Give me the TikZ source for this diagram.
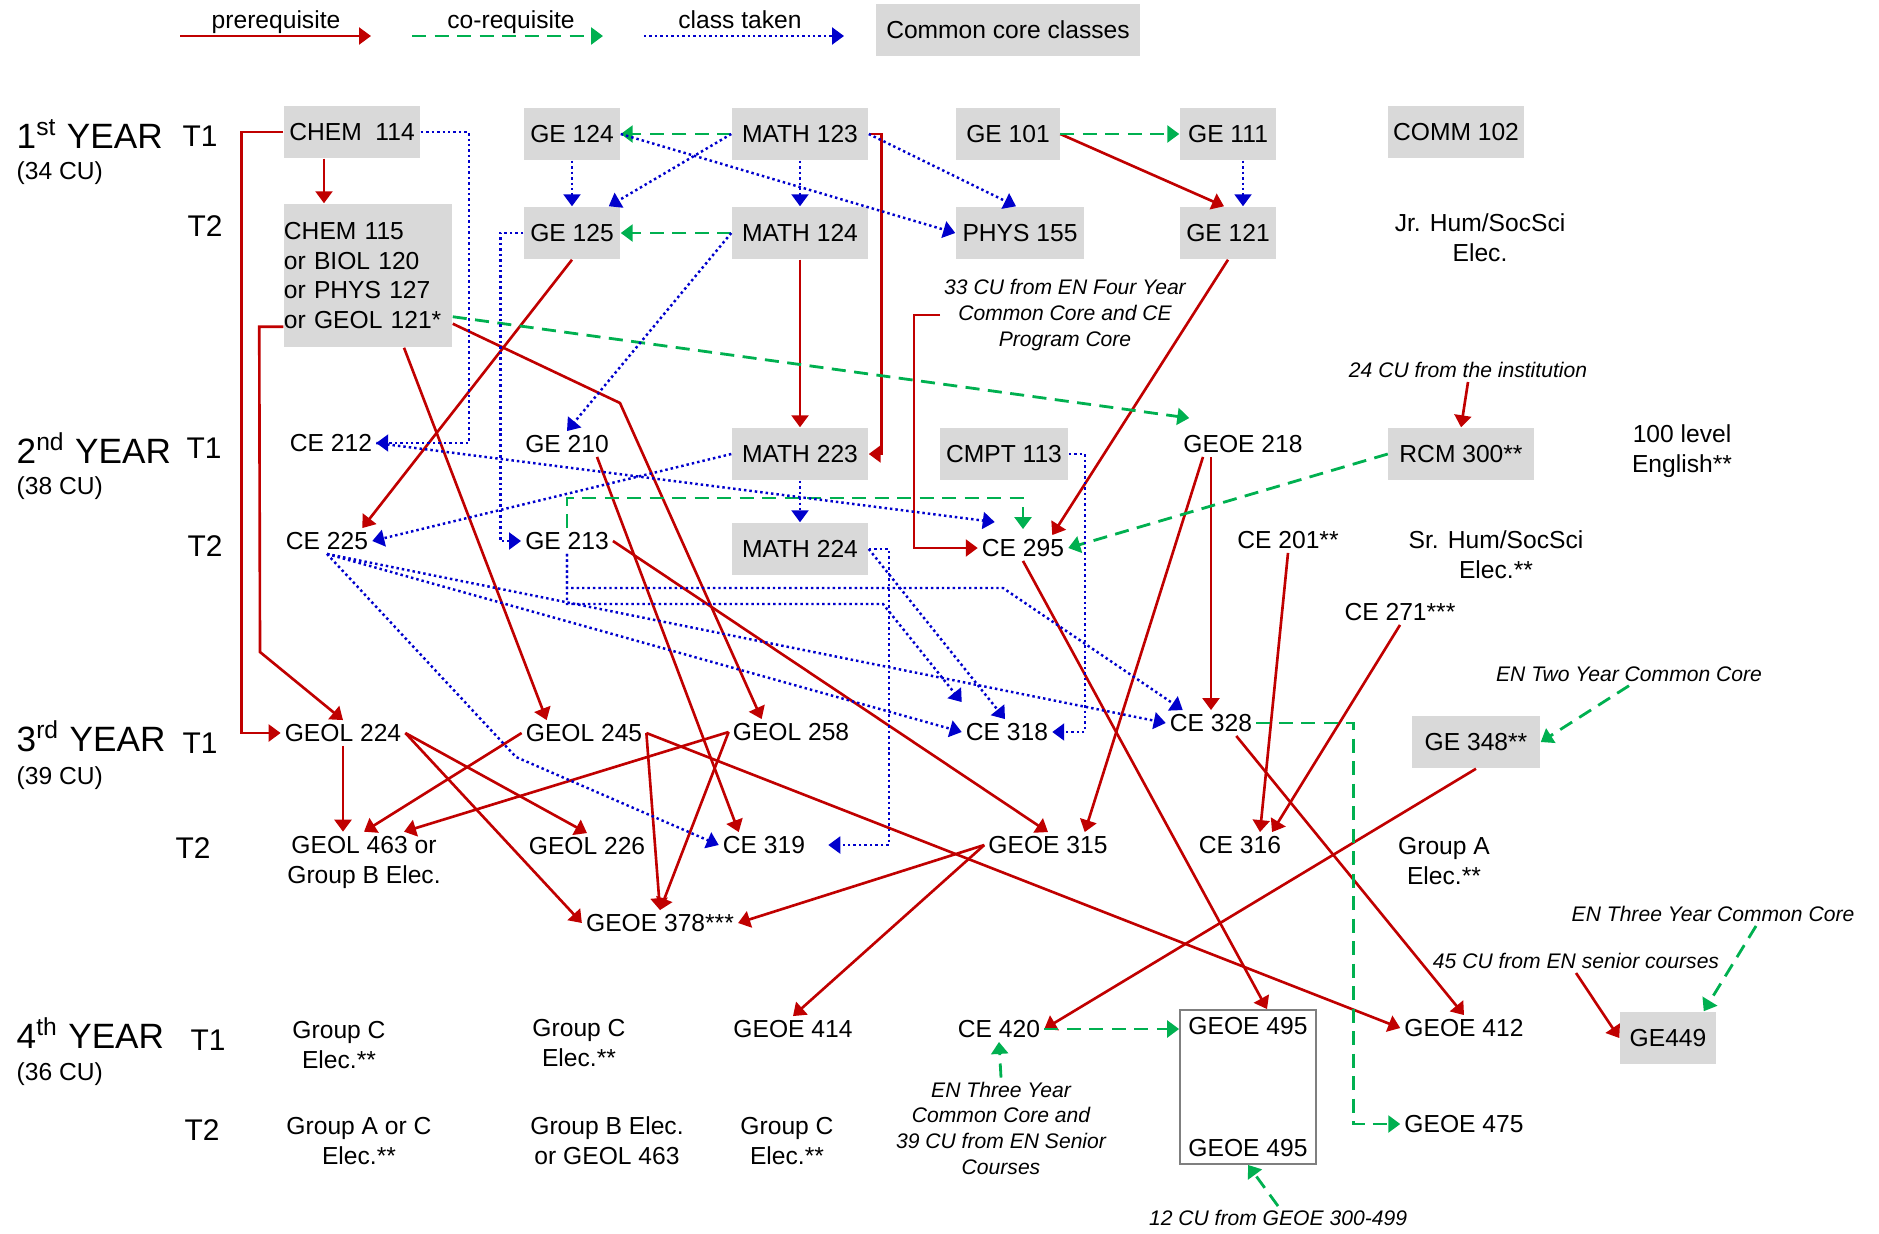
\documentclass[tikz,border=0pt]{standalone}
\usepackage{fontspec}
\setmainfont{Liberation Sans}
\usetikzlibrary{arrows.meta,calc}
\definecolor{prered}{HTML}{C00000}
\definecolor{coreqgreen}{HTML}{00B050}
\definecolor{takenblue}{HTML}{0000CC}
\definecolor{corefill}{HTML}{D9D9D9}
\definecolor{boxgray}{HTML}{7F7F7F}
\tikzset{
    course/.style={inner sep=1pt, align=center, font=\fontsize{7}{8.5}\selectfont},
    core/.style={course, fill=corefill, inner sep=0pt, minimum height=0.52cm},
    note/.style={inner sep=1pt, align=center, font=\fontsize{6}{7.3}\selectfont\itshape},
    yearlbl/.style={anchor=base west, inner sep=0pt, font=\fontsize{10}{12}\selectfont},
    culbl/.style={anchor=base west, inner sep=0pt, font=\fontsize{7}{8.5}\selectfont},
    termlbl/.style={inner sep=0pt, font=\fontsize{8.5}{10}\selectfont}
}
\tikzset{
    pre/.style={draw=prered, line width=0.75pt, -{Triangle[length=3.4pt,width=4.8pt]}},
    coreq/.style={draw=coreqgreen, line width=0.8pt, dash pattern=on 4pt off 2.4pt, -{Triangle[length=3.4pt,width=4.8pt]}},
    taken/.style={draw=takenblue, line width=0.7pt, dash pattern=on 0.7pt off 0.85pt, -{Triangle[length=3.4pt,width=4.8pt]}}
}
\begin{document}
\begin{tikzpicture}[x=0.01cm,y=-0.01cm]
	\useasboundingbox (0,0) rectangle (1879,1233);
	% legend
	\node[course,anchor=base] (lgpre) at (276,28) {prerequisite};
	\node[course,anchor=base] (lgco) at (511,28) {co-requisite};
	\node[course,anchor=base] (lgtaken) at (740,28) {class taken};
	\node[core,minimum width=2.64cm,minimum height=0.51cm] (lgcore) at (1008,30) {Common core classes};
	\draw[pre] (180,36) -- (371,36);
	\draw[coreq] (412,36) -- (603,36);
	\draw[taken] (644,36) -- (844,36);
	% years and terms
	\node[yearlbl] (y1) at (16,148) {1\textsuperscript{st} YEAR};
	\node[culbl] (cu1) at (16,179) {(34 CU)};
	\node[yearlbl] (y2) at (16,463) {2\textsuperscript{nd} YEAR};
	\node[culbl] (cu2) at (16,494) {(38 CU)};
	\node[yearlbl] (y3) at (16,751) {3\textsuperscript{rd} YEAR};
	\node[culbl] (cu3) at (16,784) {(39 CU)};
	\node[yearlbl] (y4) at (16,1048) {4\textsuperscript{th} YEAR};
	\node[culbl] (cu4) at (16,1080) {(36 CU)};
	\node[termlbl] (t11) at (200,136) {T1};
	\node[termlbl] (t12) at (205,226) {T2};
	\node[termlbl] (t21) at (204,448) {T1};
	\node[termlbl] (t22) at (205,546) {T2};
	\node[termlbl] (t31) at (200,743) {T1};
	\node[termlbl] (t32) at (193,848) {T2};
	\node[termlbl] (t41) at (208,1040) {T1};
	\node[termlbl] (t42) at (202,1130) {T2};
	% first year
	\node[core,minimum width=1.36cm] (chem114) at (352,132) {CHEM\ \ 114};
	\node[core,minimum height=1.43cm,text width=1.68cm,align=left] (chem115) at (368,275.5) {CHEM 115\\or BIOL 120\\or PHYS 127\\or GEOL 121*};
	\node[core,minimum width=0.96cm] (ge124) at (572,134) {GE 124};
	\node[core,minimum width=0.96cm] (ge125) at (572,233) {GE 125};
	\node[core,minimum width=1.36cm] (math123) at (800,134) {MATH 123};
	\node[core,minimum width=1.36cm] (math124) at (800,233) {MATH 124};
	\node[core,minimum width=1.03cm] (ge101) at (1008,134) {GE 101};
	\node[core,minimum width=1.28cm] (phys155) at (1020,233) {PHYS 155};
	\node[core,minimum width=0.96cm] (ge111) at (1228,134) {GE 111};
	\node[core,minimum width=0.96cm] (ge121) at (1228,233) {GE 121};
	\node[core,minimum width=1.36cm] (comm102) at (1456,132) {COMM 102};
	\node[course] (jrhum) at (1480,238) {Jr. Hum/SocSci\\Elec.};
	\node[note] (cu33) at (1065,315) {33 CU from EN Four Year\\Common Core and CE\\Program Core};
	% second year
	\node[course] (ce212) at (331,443) {CE 212};
	\node[course] (ge210) at (567,444) {GE 210};
	\node[core,minimum width=1.36cm] (math223) at (800,454) {MATH 223};
	\node[core,minimum width=1.28cm] (cmpt113) at (1004,454) {CMPT 113};
	\node[course] (geoe218) at (1243,444) {GEOE 218};
	\node[core,minimum width=1.45cm] (rcm300) at (1461,454) {RCM 300**};
	\node[course] (eng100) at (1682,451) {100 level\\English**};
	\node[note] (cu24) at (1468,370) {24 CU from the institution};
	\node[course] (ce225) at (327,541) {CE 225};
	\node[course] (ge213) at (567,541) {GE 213};
	\node[core,minimum width=1.36cm] (math224) at (800,549) {MATH 224};
	\node[course] (ce295) at (1023,548) {CE 295};
	\node[course] (ce201) at (1288,540) {CE 201**};
	\node[course] (srhum) at (1496,555) {Sr. Hum/SocSci\\Elec.**};
	\node[course] (ce271) at (1400,612) {CE 271***};
	% third year
	\node[course] (geol224) at (343,733) {GEOL 224};
	\node[course] (geol245) at (584,733) {GEOL 245};
	\node[course] (geol258) at (791,732) {GEOL 258};
	\node[course] (ce318) at (1007,732) {CE 318};
	\node[course] (ce328) at (1211,723) {CE 328};
	\node[core,minimum width=1.28cm] (ge348) at (1476,742) {GE 348**};
	\node[note] (en2) at (1629,674) {EN Two Year Common Core};
	\node[course] (geol463) at (364,862) {GEOL 463 or\\Group B Elec.};
	\node[course] (geol226) at (587,846) {GEOL 226};
	\node[course] (ce319) at (764,845) {CE 319};
	\node[course] (geoe315) at (1048,845) {GEOE 315};
	\node[course] (ce316) at (1240,845) {CE 316};
	\node[course] (grpA) at (1444,861) {Group A\\Elec.**};
	\node[course] (geoe378) at (660,923) {GEOE 378***};
	\node[note] (en3) at (1713,914) {EN Three Year Common Core};
	\node[note] (cu45) at (1576,961) {45 CU from EN senior courses};
	% fourth year
	\node[course] (grpC1) at (339,1045) {Group C\\Elec.**};
	\node[course] (grpC2) at (579,1043) {Group C\\Elec.**};
	\node[course] (geoe414) at (793,1029) {GEOE 414};
	\node[course] (ce420) at (999,1029) {CE 420};
	\node[draw=boxgray,line width=0.5pt,minimum width=1.36cm,minimum height=1.54cm,inner sep=0pt] (box495) at (1248,1087) {};
	\node[course] (geoe495a) at (1248,1026) {GEOE 495};
	\node[course] (geoe495b) at (1248,1148) {GEOE 495};
	\node[course] (geoe412) at (1464,1028) {GEOE 412};
	\node[core,minimum width=0.96cm] (ge449) at (1668,1038) {GE449};
	\node[course] (grpAC) at (359,1141) {Group A or C\\Elec.**};
	\node[course] (grpB) at (607,1141) {Group B Elec.\\or GEOL 463};
	\node[course] (grpC3) at (787,1141) {Group C\\Elec.**};
	\node[note] (en3b) at (1001,1128) {EN Three Year\\Common Core and\\39 CU from EN Senior\\Courses};
	\node[course] (geoe475) at (1464,1124) {GEOE 475};
	\node[note] (cu12) at (1278,1218) {12 CU from GEOE 300-499};
	% bends
	\coordinate (k1) at (260,652);
	\coordinate (k2) at (620,403);
	\coordinate (k4) at (516,757);
	\coordinate (k5) at (883,604);
	\coordinate (k6) at (1003,588);
	% prerequisites
	\draw[pre] ([xshift=-2.8mm]chem114.south) -- ([xshift=-2.8mm]chem114.south |- chem115.north);
	\draw[pre] (chem114.west) -- ++(-42,0) |- (geol224.west);
	\draw[pre] ([yshift=2.1mm]chem115.south west) -- ++(-24,0) -- (k1) -- (geol224.north);
	\draw[pre] ([xshift=3.6mm]chem115.south) -- ([xshift=2.5mm]geol245.north west);
	\draw[pre] ([yshift=2.4mm]chem115.south east) -- (k2) -- ([xshift=3.3mm]geol258.north west);
	\draw[pre] (ge125.south) -- ([xshift=-1mm]ce225.north east);
	\draw[pre] (math124.south) -- (math223.north);
	\draw[pre] (math123.east) -- ++(13,0) |- (math223.east);
	\draw[pre] (cu33.west) -- ++(-26,0) |- (ce295.west);
	\draw[pre] (ge121.south) -- ([xshift=-1.6mm]ce295.north east);
	\draw[pre] (ge101.east) -- ([xshift=-0.4mm]ge121.north);
	\draw[pre] (cu24.south) -- (rcm300.north);
	\draw[pre] ([xshift=-4mm]geoe218.south) -- ([xshift=-2.7mm]geoe315.north east);
	\draw[pre] (geoe218.south -| ce328.north) -- (ce328.north);
	\draw[pre] (ce201.south) -- ([xshift=2mm]ce316.north);
	\draw[pre] (ce271.south) -- ([xshift=3.2mm]ce316.north);
	\draw[pre] ([xshift=-2mm]ce328.south east) -- (geoe412.north);
	\draw[pre] (ge348.south) -- (ce420.east);
	\draw[pre] (ce295.south) -- ([xshift=1.9mm]box495.north);
	\draw[pre] (geol245.east) -- (geoe412.west);
	\draw[pre] (geol245.east) -- (geoe378.north);
	\draw[pre] (geol258.west) -- (geoe378.north);
	\draw[pre] (geol258.west) -- ([xshift=4mm]geol463.north);
	\draw[pre] (geol245.west) -- (geol463.north);
	\draw[pre] (geol224.south) -- (geol224.south |- geol463.north);
	\draw[pre] (geol224.east) -- (geol226.north);
	\draw[pre] (geol224.east) -- (geoe378.west);
	\draw[pre] ([xshift=3mm]ge210.south) -- ([xshift=2mm]ce319.north west);
	\draw[pre] (ge213.east) -- (geoe315.north);
	\draw[pre] (geoe315.west) -- (geoe378.east);
	\draw[pre] (geoe315.west) -- (geoe414.north);
	\draw[pre] (cu45.south) -- (ge449.west);
	% co-requisites
	\draw[coreq] (math123.west) -- (ge124.east);
	\draw[coreq] (math124.west) -- (ge125.east);
	\draw[coreq] (ge101.east) -- (ge111.west);
	\draw[coreq] ([yshift=3.1mm]chem115.south east) -- ([xshift=1mm,yshift=1.3mm]geoe218.north west);
	\draw[coreq] (rcm300.west) -- (ce295.east);
	\draw[coreq] (ge213.north) -- ++(0,-30) -| ([yshift=0.6mm]ce295.north);
	\draw[coreq] (ce328.east) -- ++(97,0) |- (geoe475.west);
	\draw[coreq] (en2.south) -- (ge348.east);
	\draw[coreq] ([xshift=4.3mm]en3.south) -- ([xshift=-1.3mm]ge449.north east);
	\draw[coreq] (ce420.east) -- (ce420.east -| box495.west);
	\draw[coreq] (en3b.north) -- (ce420.south);
	\draw[coreq] (cu12.north) -- (box495.south);
	% classes taken
	\draw[taken] (chem114.east) -- ++(48,0) |- (ce212.east);
	\draw[taken] (ge124.south) -- (ge125.north);
	\draw[taken] (math123.west) -- ([xshift=-1.2mm]ge125.north east);
	\draw[taken] (ge124.east) -- (phys155.west);
	\draw[taken] (math123.south) -- (math124.north);
	\draw[taken] (math123.east) -- ([xshift=-0.4mm]phys155.north);
	\draw[taken] ([xshift=1.5mm]ge111.south) -- ([xshift=1.5mm]ge121.north);
	\draw[taken] (math124.west) -- (ge210.north);
	\draw[taken] (ge125.west) -- ++(-23,0) |- (ge213.west);
	\draw[taken] (math223.south) -- (math224.north);
	\draw[taken] (math223.west) -- (ce225.east);
	\draw[taken] (ce212.east) -- ([xshift=1.7mm,yshift=1.3mm]ce295.north west);
	\draw[taken] (ce225.south) -- (k4) -- (ce319.west);
	\draw[taken] (ce225.south) -- (ce318.west);
	\draw[taken] (ce225.south) -- (ce328.west);
	\draw[taken] (ge213.south) |- (k5) -- ([yshift=1.7mm]ce318.north west);
	\draw[taken] (ge213.south) |- (k6) -- ([xshift=1.7mm]ce328.north west);
	\draw[taken] (math224.east) -- ([xshift=-0.2mm]ce318.north);
	\draw[taken] (math224.east) -- ++(20,0) |- ([xshift=1.9mm]ce319.east);
	\draw[taken] (cmpt113.east) -- ++(16,0) |- (ce318.east);
\end{tikzpicture}
\end{document}
